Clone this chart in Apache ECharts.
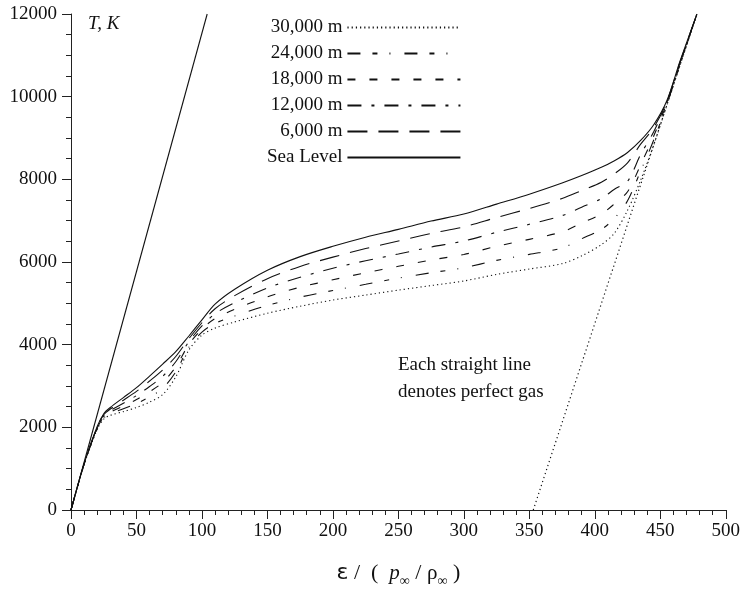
<!DOCTYPE html>
<html>
<head>
<meta charset="utf-8">
<script src="https://cdn.jsdelivr.net/npm/echarts@6/dist/echarts.min.js"></script>
<style>
html,body{margin:0;padding:0;background:#fff;}
#chart{width:743px;height:593px;}
</style>
</head>
<body>
<div id="chart"></div>
<script>
// x grid shared by the altitude curves (epsilon / (p/rho))
var xGrid = [0,10,20,25,30,40,50,60,70,80,90,100,110,125,150,175,200,225,250,275,300,325,350,375,390,405,415,425,435,445,455,465,478];
// temperature, K
var seaLevel = [0,1120,2020,2330,2480,2720,2960,3240,3530,3830,4210,4600,4980,5340,5800,6130,6380,6600,6790,6990,7160,7400,7640,7910,8090,8290,8450,8650,8940,9320,9900,10850,12000];
var alt6000  = [0,1115,2007,2305,2444,2655,2869,3120,3389,3714,4145,4530,4870,5186,5597,5893,6118,6325,6507,6692,6850,7077,7294,7536,7727,7930,8134,8400,8850,9250,9880,10830,12000];
var alt12000 = [0,1110,1992,2278,2404,2584,2768,2988,3234,3586,4074,4452,4748,5016,5372,5630,5850,6030,6194,6362,6508,6720,6912,7122,7326,7530,7762,7950,8600,9150,9860,10810,12000];
var alt18000 = [0,1108,1978,2252,2366,2516,2672,2862,3086,3464,4006,4378,4632,4854,5158,5390,5570,5740,5896,6048,6182,6380,6548,6728,6944,7160,7408,7700,8350,9050,9840,10790,12000];
var alt24000 = [0,1104,1964,2226,2328,2448,2576,2736,2938,3342,3938,4304,4516,4692,4950,5150,5310,5460,5610,5740,5860,6040,6184,6340,6562,6790,7054,7480,8200,8950,9815,10770,12000];
var alt30000 = [0,1100,1950,2200,2290,2380,2480,2610,2790,3220,3870,4230,4400,4550,4760,4930,5080,5200,5320,5430,5540,5700,5830,5960,6150,6420,6700,7250,7980,8830,9790,10750,12000];
// perfect gas straight lines
var gasLowX = [0,104];
var gasLowY = [0,12000];
var gasHighX = [353,478];
var gasHighY = [0,12000];

var serif = 'Liberation Serif';

function pairs(xs, ys){
	var out = [];
	for (var i = 0; i < xs.length; i++) out.push([xs[i], ys[i]]);
	return out;
}

function curve(name, ys, dash){
	return {
		name: name,
		type: 'line',
		data: pairs(xGrid, ys),
		symbol: 'none',
		smooth: 0.3,
		lineStyle: {color: '#111', width: 1.1, type: dash},
		itemStyle: {color: '#111'},
		z: 3
	};
}

var myChart = echarts.init(document.getElementById('chart'));
var option = {
	animation: false,
	backgroundColor: '#fff',
	grid: {left: 71, right: 16, top: 14, bottom: 82},
	legend: {
		orient: 'vertical',
		left: 262,
		top: 13,
		align: 'right',
		itemWidth: 113,
		itemHeight: 14,
		itemGap: 7,
		selectedMode: false,
		itemStyle: {opacity: 0},
		textStyle: {fontFamily: serif, fontSize: 19, lineHeight: 19, color: '#111'},
		data: ['30,000 m','24,000 m','18,000 m','12,000 m','6,000 m','Sea Level']
	},
	xAxis: {
		type: 'value',
		min: 0, max: 500, interval: 50,
		axisLine: {lineStyle: {color: '#222', width: 1}},
		axisTick: {length: 9, lineStyle: {color: '#222'}},
		minorTick: {show: true, splitNumber: 5, length: 5, lineStyle: {color: '#222'}},
		splitLine: {show: false},
		axisLabel: {fontFamily: serif, fontSize: 19, color: '#111', margin: 12},
		name: '{e|ε} /  (  {p|p}{s|∞} / {r|ρ}{s|∞} )',
		nameLocation: 'middle',
		nameGap: 48,
		nameTextStyle: {
			fontFamily: serif, fontSize: 22, color: '#111',
			rich: {
				e: {fontFamily: 'DejaVu Sans', fontSize: 22, color: '#111'},
				p: {fontFamily: serif, fontStyle: 'italic', fontSize: 21, color: '#111'},
				r: {fontFamily: serif, fontSize: 21, color: '#111'},
				s: {fontFamily: serif, fontSize: 14, color: '#111', padding: [16,0,0,0]}
			}
		}
	},
	yAxis: {
		type: 'value',
		min: 0, max: 12000, interval: 2000,
		axisLine: {show: true, lineStyle: {color: '#222', width: 1}},
		axisTick: {show: true, length: 9, lineStyle: {color: '#222'}},
		minorTick: {show: true, splitNumber: 4, length: 5, lineStyle: {color: '#222'}},
		splitLine: {show: false},
		axisLabel: {
			fontFamily: serif, fontSize: 19, color: '#111', margin: 14,
			formatter: function(v){ return String(v); }
		}
	},
	graphic: [
		{type: 'text', left: 88, top: 14, style: {text: 'T, K', fontFamily: serif, fontStyle: 'italic', fontSize: 19, fill: '#111'}},
		{type: 'text', left: 398, top: 352, style: {text: 'Each straight line\ndenotes perfect gas', fontFamily: serif, fontSize: 19, lineHeight: 27, fill: '#111'}}
	],
	series: [
		curve('30,000 m', alt30000, [1.2,3]),
		curve('24,000 m', alt24000, [13,12,5,12,1,14]),
		curve('18,000 m', alt18000, [8,14]),
		curve('12,000 m', alt12000, [14,10,3,10]),
		curve('6,000 m', alt6000, [20,11]),
		curve('Sea Level', seaLevel, 'solid'),
		{
			name: 'perfect gas',
			type: 'line',
			data: pairs(gasLowX, gasLowY),
			symbol: 'none',
			lineStyle: {color: '#111', width: 1.1}
		},
		{
			name: 'perfect gas 2',
			type: 'line',
			data: pairs(gasHighX, gasHighY),
			symbol: 'none',
			lineStyle: {color: '#111', width: 1.2, type: [1.2,3]}
		}
	]
};
myChart.setOption(option);
</script>
</body>
</html>
